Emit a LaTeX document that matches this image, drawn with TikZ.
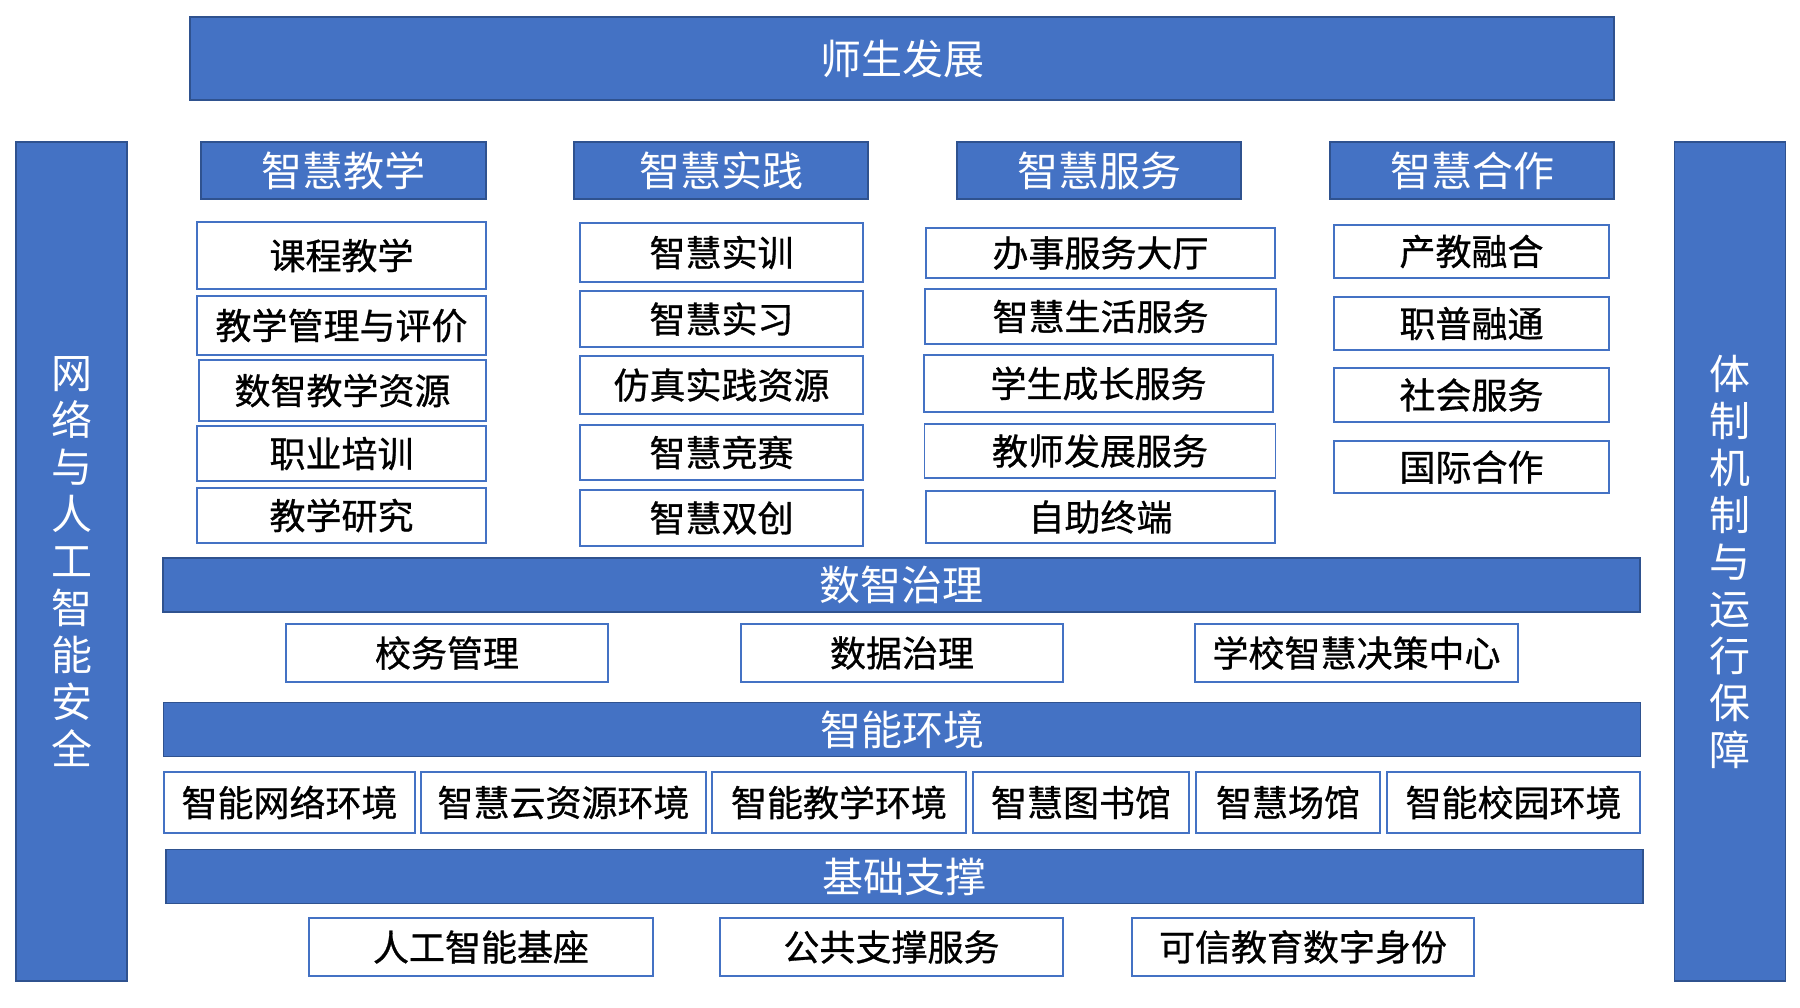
\documentclass[tikz,border=0pt]{standalone}
\usepackage{fontspec}
\setmainfont{Noto Sans CJK SC}
\definecolor{barblue}{HTML}{4472C4}
\definecolor{barline}{HTML}{2F528F}
\tikzset{
  bar/.style={draw=barline, line width=1.2pt, fill=barblue, text=white, inner sep=0pt, font=\fontsize{41}{47}\selectfont},
  item/.style={draw=barblue, line width=1.5pt, fill=white, text=black, inner sep=0pt, font=\fontsize{36}{36}\selectfont\addfontfeature{FakeBold=0.8}},
  head/.style={bar, minimum height=57pt},
  layer/.style={bar, minimum width=1477pt, minimum height=54pt},
  side/.style={bar, minimum width=111pt, minimum height=839pt, align=center},
}
\begin{document}
\begin{tikzpicture}[x=1pt, y=-1pt]
    \path[fill=white] (0,0) rectangle (1800,1008);

    % top and side bars
    \node[bar, minimum width=1424pt, minimum height=83pt] (fazhan) at (902,58.5) {师生发展};
    \node[side] (anquan) at (71.5,561.5) {网\\络\\与\\人\\工\\智\\能\\安\\全};
    \node[side] (baozhang) at (1730,561.5) {体\\制\\机\\制\\与\\运\\行\\保\\障};

    % column heads
    \node[head, minimum width=285pt] (jiaoxue) at (343.5,170.5) {智慧教学};
    \node[head, minimum width=294pt] (shijian) at (721,170.5) {智慧实践};
    \node[head, minimum width=284pt] (fuwu) at (1099,170.5) {智慧服务};
    \node[head, minimum width=284pt] (hezuo) at (1472,170.5) {智慧合作};

    % 智慧教学
    \node[item, minimum width=289pt, minimum height=67pt] (t1) at (341.5,255.5) {课程教学};
    \node[item, minimum width=289pt, minimum height=59pt] (t2) at (341.5,325.5) {教学管理与评价};
    \node[item, minimum width=287pt, minimum height=61pt] (t3) at (342.5,390.5) {数智教学资源};
    \node[item, minimum width=289pt, minimum height=55pt] (t4) at (341.5,453.5) {职业培训};
    \node[item, minimum width=289pt, minimum height=55pt] (t5) at (341.5,515.5) {教学研究};

    % 智慧实践
    \node[item, minimum width=283pt, minimum height=59pt] (p1) at (721.5,252.5) {智慧实训};
    \node[item, minimum width=283pt, minimum height=56pt] (p2) at (721.5,319) {智慧实习};
    \node[item, minimum width=283pt, minimum height=58pt] (p3) at (721.5,385) {仿真实践资源};
    \node[item, minimum width=283pt, minimum height=55pt] (p4) at (721.5,452.5) {智慧竞赛};
    \node[item, minimum width=283pt, minimum height=56pt] (p5) at (721.5,518) {智慧双创};

    % 智慧服务
    \node[item, minimum width=349pt, minimum height=50pt] (s1) at (1100.5,253) {办事服务大厅};
    \node[item, minimum width=351pt, minimum height=55pt] (s2) at (1100.5,316.5) {智慧生活服务};
    \node[item, minimum width=349pt, minimum height=57pt] (s3) at (1098.5,383.5) {学生成长服务};
    \node[item, minimum width=351pt, minimum height=54pt] (s4) at (1100,451) {教师发展服务};
    \node[item, minimum width=349pt, minimum height=52pt] (s5) at (1100.5,517) {自助终端};

    % 智慧合作
    \node[item, minimum width=275pt, minimum height=53pt] (c1) at (1471.5,251.5) {产教融合};
    \node[item, minimum width=275pt, minimum height=53pt] (c2) at (1471.5,323.5) {职普融通};
    \node[item, minimum width=275pt, minimum height=54pt] (c3) at (1471.5,395) {社会服务};
    \node[item, minimum width=275pt, minimum height=52pt] (c4) at (1471.5,467) {国际合作};

    % 数智治理
    \node[layer] (zhili) at (901.5,585) {数智治理};
    \node[item, minimum width=322pt, minimum height=58pt] (g1) at (447,653) {校务管理};
    \node[item, minimum width=322pt, minimum height=58pt] (g2) at (902,653) {数据治理};
    \node[item, minimum width=323pt, minimum height=58pt] (g3) at (1356.5,653) {学校智慧决策中心};

    % 智能环境
    \node[layer] (huanjing) at (902,729.5) {智能环境};
    \node[item, minimum width=251pt, minimum height=61pt] (e1) at (289.5,802.5) {智能网络环境};
    \node[item, minimum width=285pt, minimum height=61pt] (e2) at (563.5,802.5) {智慧云资源环境};
    \node[item, minimum width=254pt, minimum height=61pt] (e3) at (839,802.5) {智能教学环境};
    \node[item, minimum width=216pt, minimum height=61pt] (e4) at (1081,802.5) {智慧图书馆};
    \node[item, minimum width=184pt, minimum height=61pt] (e5) at (1288,802.5) {智慧场馆};
    \node[item, minimum width=253pt, minimum height=61pt] (e6) at (1513.5,802.5) {智能校园环境};

    % 基础支撑
    \node[layer] (zhicheng) at (904.5,876.5) {基础支撑};
    \node[item, minimum width=344pt, minimum height=58pt] (b1) at (481,947) {人工智能基座};
    \node[item, minimum width=343pt, minimum height=58pt] (b2) at (891.5,947) {公共支撑服务};
    \node[item, minimum width=342pt, minimum height=58pt] (b3) at (1303,947) {可信教育数字身份};
\end{tikzpicture}
\end{document}
